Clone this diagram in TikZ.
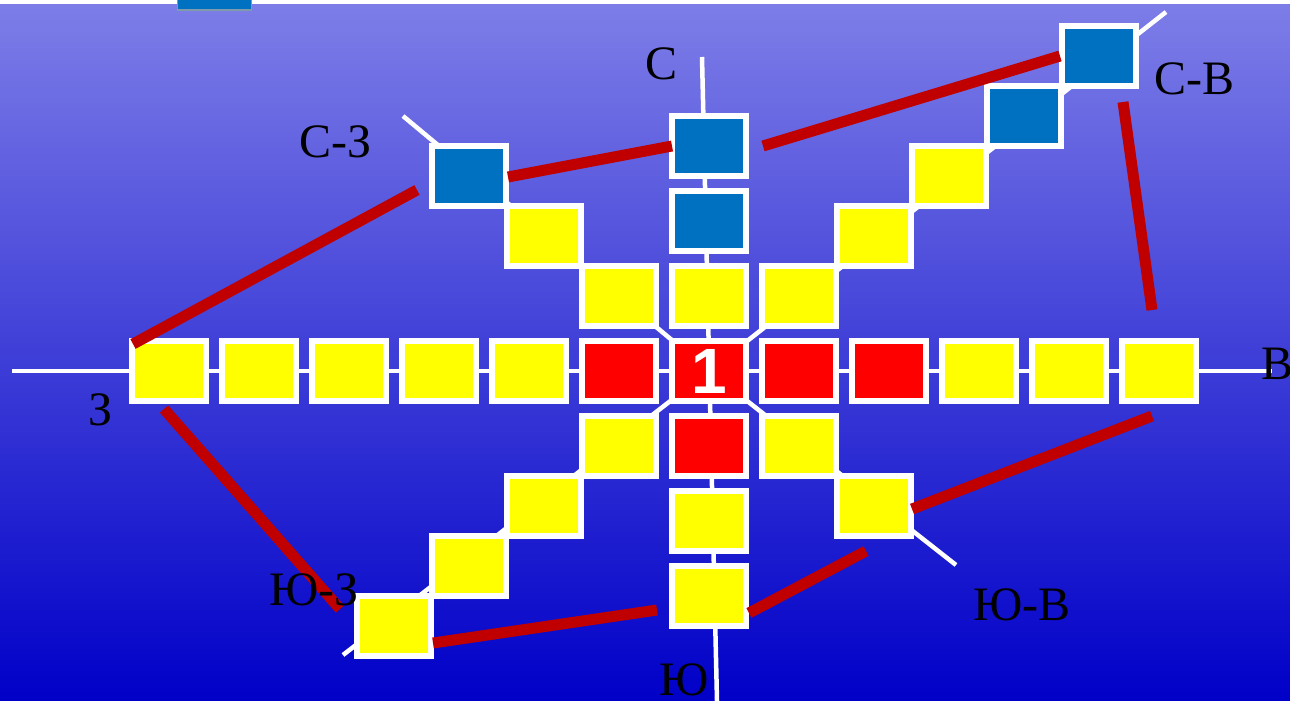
\documentclass[tikz,border=0pt]{standalone}
\usepackage{fontspec}
\setmainfont{Liberation Serif}
\newfontfamily\boldsans{Liberation Sans}
\definecolor{bxblue}{RGB}{0,112,192}
\definecolor{bxyellow}{RGB}{255,255,0}
\definecolor{bxred}{RGB}{255,0,0}
\definecolor{linkred}{RGB}{192,0,0}
\definecolor{bgtop}{RGB}{126,126,232}
\definecolor{bgbot}{RGB}{0,0,200}
\definecolor{tabgrey}{RGB}{125,155,170}
\begin{document}
\begin{tikzpicture}[x=1pt,y=-1pt,
  box/.style={draw=white,line width=6pt,minimum width=74pt,minimum height=60pt,inner sep=0pt,outer sep=0pt},
  yb/.style={box,fill=bxyellow},
  bb/.style={box,fill=bxblue},
  rb/.style={box,fill=bxred},
  axis/.style={draw=white,line width=4.5pt},
  link/.style={draw=linkred,line width=11pt},
  lab/.style={font=\fontsize{48}{50}\selectfont,anchor=base,text=black,inner sep=0pt}]
\useasboundingbox (0,0) rectangle (1290,701);
\shade[top color=bgtop,bottom color=bgbot] (0,0) rectangle (1290,701);
\fill[white] (0,0) rectangle (1290,4);
\node[draw=tabgrey,line width=1.5pt,fill=bxblue,minimum width=74pt,minimum height=11pt,inner sep=0pt] (tab) at (214.5,4.5) {};

% axis end points
\coordinate (o) at (709,371);
\coordinate (aW) at (12,371);
\coordinate (aE) at (1272,371);
\coordinate (aN) at (702,57);
\coordinate (aS) at (717,701);
\coordinate (aNW) at (403,116);
\coordinate (aNE) at (1166,12);
\coordinate (aSE) at (956,565);
\coordinate (aSW) at (343,655);
\draw[axis] (aW) -- (aE);
\draw[axis] (aN) -- (aS);
\draw[axis] (aNW) -- (o);
\draw[axis] (aNE) -- (o);
\draw[axis] (aSE) -- (o);
\draw[axis] (aSW) -- (o);

% horizontal row
\node[rb,text=white,font=\boldsans\bfseries\fontsize{64}{64}\selectfont] (c) at (709,371) {1};
\node[rb] (e1) at (799,371) {};
\node[rb] (e2) at (889,371) {};
\node[yb] (e3) at (979,371) {};
\node[yb] (e4) at (1069,371) {};
\node[yb] (e5) at (1159,371) {};
\node[rb] (w1) at (619,371) {};
\node[yb] (w2) at (529,371) {};
\node[yb] (w3) at (439,371) {};
\node[yb] (w4) at (349,371) {};
\node[yb] (w5) at (259,371) {};
\node[yb] (w6) at (169,371) {};
% vertical column
\node[yb] (n1) at (709,296) {};
\node[bb] (n2) at (709,221) {};
\node[bb] (n3) at (709,146) {};
\node[rb] (s1) at (709,446) {};
\node[yb] (s2) at (709,521) {};
\node[yb] (s3) at (709,596) {};
% diagonals
\node[yb] (nw1) at (619,296) {};
\node[yb] (nw2) at (544,236) {};
\node[bb] (nw3) at (469,176) {};
\node[yb] (ne1) at (799,296) {};
\node[yb] (ne2) at (874,236) {};
\node[yb] (ne3) at (949,176) {};
\node[bb] (ne4) at (1024,116) {};
\node[bb] (ne5) at (1099,56) {};
\node[yb] (sw1) at (619,446) {};
\node[yb] (sw2) at (544,506) {};
\node[yb] (sw3) at (469,566) {};
\node[yb] (sw4) at (394,626) {};
\node[yb] (se1) at (799,446) {};
\node[yb] (se2) at (874,506) {};

% red links
\coordinate (r1a) at (133,344);  \coordinate (r1b) at (417,190);
\coordinate (r2a) at (508,177);  \coordinate (r2b) at (672,146);
\coordinate (r3a) at (763,146);  \coordinate (r3b) at (1060,56);
\coordinate (r4a) at (1123,102); \coordinate (r4b) at (1152,310);
\coordinate (r5a) at (1152,416); \coordinate (r5b) at (912,509);
\coordinate (r6a) at (866,551);  \coordinate (r6b) at (749,613);
\coordinate (r7a) at (657,610);  \coordinate (r7b) at (433,643);
\coordinate (r8a) at (164,409);  \coordinate (r8b) at (340,609);
\draw[link] (r1a) -- (r1b);
\draw[link] (r2a) -- (r2b);
\draw[link] (r3a) -- (r3b);
\draw[link] (r4a) -- (r4b);
\draw[link] (r5a) -- (r5b);
\draw[link] (r6a) -- (r6b);
\draw[link] (r7a) -- (r7b);
\draw[link] (r8a) -- (r8b);

% labels
\node[lab] (lN) at (661,80) {С};
\node[lab] (lNE) at (1194,95) {С-В};
\node[lab] (lNW) at (336,157) {С-З};
\node[lab,anchor=base west] (lE) at (1261,379) {В};
\node[lab] (lW) at (101,425) {З};
\node[lab] (lSW) at (314,605) {Ю-З};
\node[lab] (lSE) at (1022,620) {Ю-В};
\node[lab] (lS) at (684,695) {Ю};
\end{tikzpicture}
\end{document}
